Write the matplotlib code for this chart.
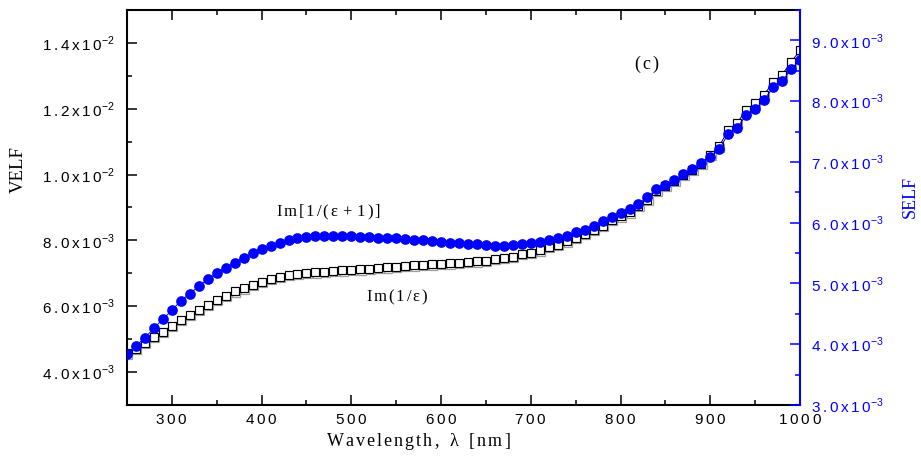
import numpy as np
import matplotlib
matplotlib.use("Agg")
import matplotlib.pyplot as plt
import matplotlib.transforms as mtransforms
from matplotlib.ticker import MultipleLocator, FuncFormatter

# Wavelength grid (nm)
wavelength = [250, 260, 270, 280, 290, 300, 310, 320, 330, 340,
              350, 360, 370, 380, 390, 400, 410, 420, 430, 440,
              450, 460, 470, 480, 490, 500, 510, 520, 530, 540,
              550, 560, 570, 580, 590, 600, 610, 620, 630, 640,
              650, 660, 670, 680, 690, 700, 710, 720, 730, 740,
              750, 760, 770, 780, 790, 800, 810, 820, 830, 840,
              850, 860, 870, 880, 890, 900, 910, 920, 930, 940,
              950, 960, 970, 980, 990, 1000]

# Volume energy loss function Im(1/eps), in units of 1e-3
velf_milli = [4.57, 4.71, 4.88, 5.06, 5.23, 5.41, 5.59, 5.74, 5.89, 6.05,
              6.20, 6.32, 6.45, 6.54, 6.64, 6.74, 6.83, 6.90, 6.95, 6.99,
              7.01, 7.03, 7.05, 7.07, 7.09, 7.10, 7.12, 7.14, 7.16, 7.18,
              7.20, 7.22, 7.24, 7.25, 7.27, 7.29, 7.30, 7.32, 7.34, 7.36,
              7.38, 7.43, 7.46, 7.51, 7.58, 7.63, 7.70, 7.80, 7.87, 7.97,
              8.07, 8.19, 8.33, 8.45, 8.63, 8.73, 8.85, 9.05, 9.24, 9.51,
              9.66, 9.81, 10.00, 10.15, 10.33, 10.60, 10.86, 11.36, 11.57, 11.97,
              12.18, 12.43, 12.80, 13.04, 13.41, 13.78]

# Surface energy loss function Im[1/(eps+1)], in units of 1e-3
self_milli = [3.845, 3.972, 4.109, 4.264, 4.412, 4.560, 4.713, 4.834, 4.956, 5.071,
              5.170, 5.262, 5.344, 5.427, 5.499, 5.565, 5.619, 5.674, 5.718, 5.756,
              5.768, 5.779, 5.784, 5.784, 5.779, 5.773, 5.768, 5.763, 5.756, 5.751,
              5.743, 5.735, 5.723, 5.710, 5.697, 5.685, 5.674, 5.664, 5.656, 5.648,
              5.631, 5.619, 5.619, 5.631, 5.648, 5.664, 5.690, 5.718, 5.746, 5.784,
              5.839, 5.883, 5.949, 6.020, 6.086, 6.158, 6.224, 6.306, 6.427, 6.547,
              6.624, 6.702, 6.801, 6.888, 6.982, 7.074, 7.209, 7.460, 7.563, 7.773,
              7.865, 8.020, 8.228, 8.328, 8.524, 8.679]

x_label = "Wavelength, λ [nm]"
left_label = "VELF"
right_label = "SELF"
note_self = "Im[1/(ε+1)]"
note_velf = "Im(1/ε)"
panel_tag = "(c)"

BLUE = "#0000ff"
SANS = "Liberation Sans"
SERIF = "Liberation Serif"


def tracked(text, gap):
    """Mathtext body with extra letter spacing between characters."""
    parts = []
    chars = list(text)
    for i, ch in enumerate(chars):
        if ch == " ":
            parts.append(r"\ ")
        else:
            parts.append(ch)
        if i < len(chars) - 1 and ch not in ".,":
            parts.append(r"\hspace{%g}" % gap)
    return "".join(parts)


def sci_label(v, pos):
    e = int(np.floor(np.log10(v) + 1e-9))
    m = v / 10.0 ** e
    body = tracked(f"{m:.1f}x10", 0.17)
    return r"$\mathregular{%s}^{\mathregular{%d}}$" % (body, e)


def x_fmt(v, pos):
    return r"$\mathregular{%s}$" % tracked(f"{int(round(v))}", 0.2)


x = np.array(wavelength)
velf = np.array(velf_milli) * 1e-3
selfv = np.array(self_milli) * 1e-3

fig = plt.figure(figsize=(9.21, 4.61), dpi=100)
W, H = 921.0, 461.0
ax = fig.add_axes([127 / W, 1 - 405 / H, (800 - 127) / W, (405 - 10) / H])
ax2 = ax.twinx()

# VELF: open squares with a soft drop shadow
shadow = ax.transData + mtransforms.ScaledTranslation(0.9 / 72, -0.9 / 72, fig.dpi_scale_trans)
ax.plot(x, velf, ls="none", marker="s", ms=6.0, mfc="none", mec="0.62", mew=0.9,
        transform=shadow, zorder=2)
ax.plot(x, velf, color="black", lw=0.7, marker="s", ms=6.0, mfc="white",
        mec="black", mew=0.85, zorder=3)

# SELF: filled blue circles on the right axis
ax2.plot(x, selfv, color=BLUE, lw=0.7, marker="o", ms=7.7, mfc=BLUE, mec=BLUE,
         mew=0.0, zorder=3)

ax.set_xlim(250, 1000)
ax.set_ylim(3e-3, 15e-3)
ax2.set_ylim(3e-3, 9.5e-3)

ax.xaxis.set_major_locator(MultipleLocator(100))
ax.xaxis.set_minor_locator(MultipleLocator(50))
ax.yaxis.set_major_locator(MultipleLocator(2e-3))
ax.yaxis.set_minor_locator(MultipleLocator(1e-3))
ax2.yaxis.set_major_locator(MultipleLocator(1e-3))
ax2.yaxis.set_minor_locator(MultipleLocator(0.5e-3))

ax.xaxis.set_major_formatter(FuncFormatter(x_fmt))
ax.yaxis.set_major_formatter(FuncFormatter(sci_label))
ax2.yaxis.set_major_formatter(FuncFormatter(sci_label))

ax.tick_params(axis="x", which="both", direction="in", top=True, bottom=True,
               width=1.1, color="black", labelsize=11, pad=5.5)
ax.tick_params(axis="x", which="major", length=7.2)
ax.tick_params(axis="x", which="minor", length=3.6)
ax.tick_params(axis="y", which="both", direction="in", left=True, right=False,
               width=1.1, color="black", labelsize=11, pad=9)
ax.tick_params(axis="y", which="major", length=7.2)
ax.tick_params(axis="y", which="minor", length=3.6)
ax2.tick_params(axis="y", which="both", direction="in", right=True, left=False,
                width=1.1, color=BLUE, labelcolor=BLUE, labelsize=11, pad=8)
ax2.tick_params(axis="y", which="major", length=7.2)
ax2.tick_params(axis="y", which="minor", length=3.6)

for lab in ax.get_xticklabels() + ax.get_yticklabels() + ax2.get_yticklabels():
    lab.set_fontfamily(SANS)

for side in ("left", "bottom", "top"):
    ax.spines[side].set_linewidth(1.5)
    ax.spines[side].set_color("black")
ax.spines["right"].set_visible(False)
for side in ("left", "bottom", "top"):
    ax2.spines[side].set_visible(False)
ax2.spines["right"].set_color(BLUE)
ax2.spines["right"].set_linewidth(1.5)

# Axis titles
fig.text(418.5 / W, 1 - 441 / H, r"$\mathregular{%s}$" % tracked(x_label, 0.12),
         ha="center", va="center", fontsize=13, family=SERIF)
fig.text(18.5 / W, 1 - 170 / H, left_label, rotation=90, ha="center", va="center",
         fontsize=13.5, family=SERIF)
fig.text(910 / W, 1 - 197 / H, right_label, rotation=90, ha="center", va="center",
         fontsize=13, family=SERIF, color=BLUE)

# Curve annotations and panel tag
ax.text(474, 8.84e-3, r"$\mathregular{%s}$" % tracked(note_self, 0.12),
        ha="center", va="center", fontsize=12, family=SERIF)
ax.text(551, 6.27e-3, r"$\mathregular{%s}$" % tracked(note_velf, 0.12),
        ha="center", va="center", fontsize=12, family=SERIF)
ax.text(829, 13.34e-3, r"$\mathregular{%s}$" % tracked(panel_tag, 0.12),
        ha="center", va="center", fontsize=13, family=SERIF)

fig.savefig("out.png", dpi=100, facecolor="white")
